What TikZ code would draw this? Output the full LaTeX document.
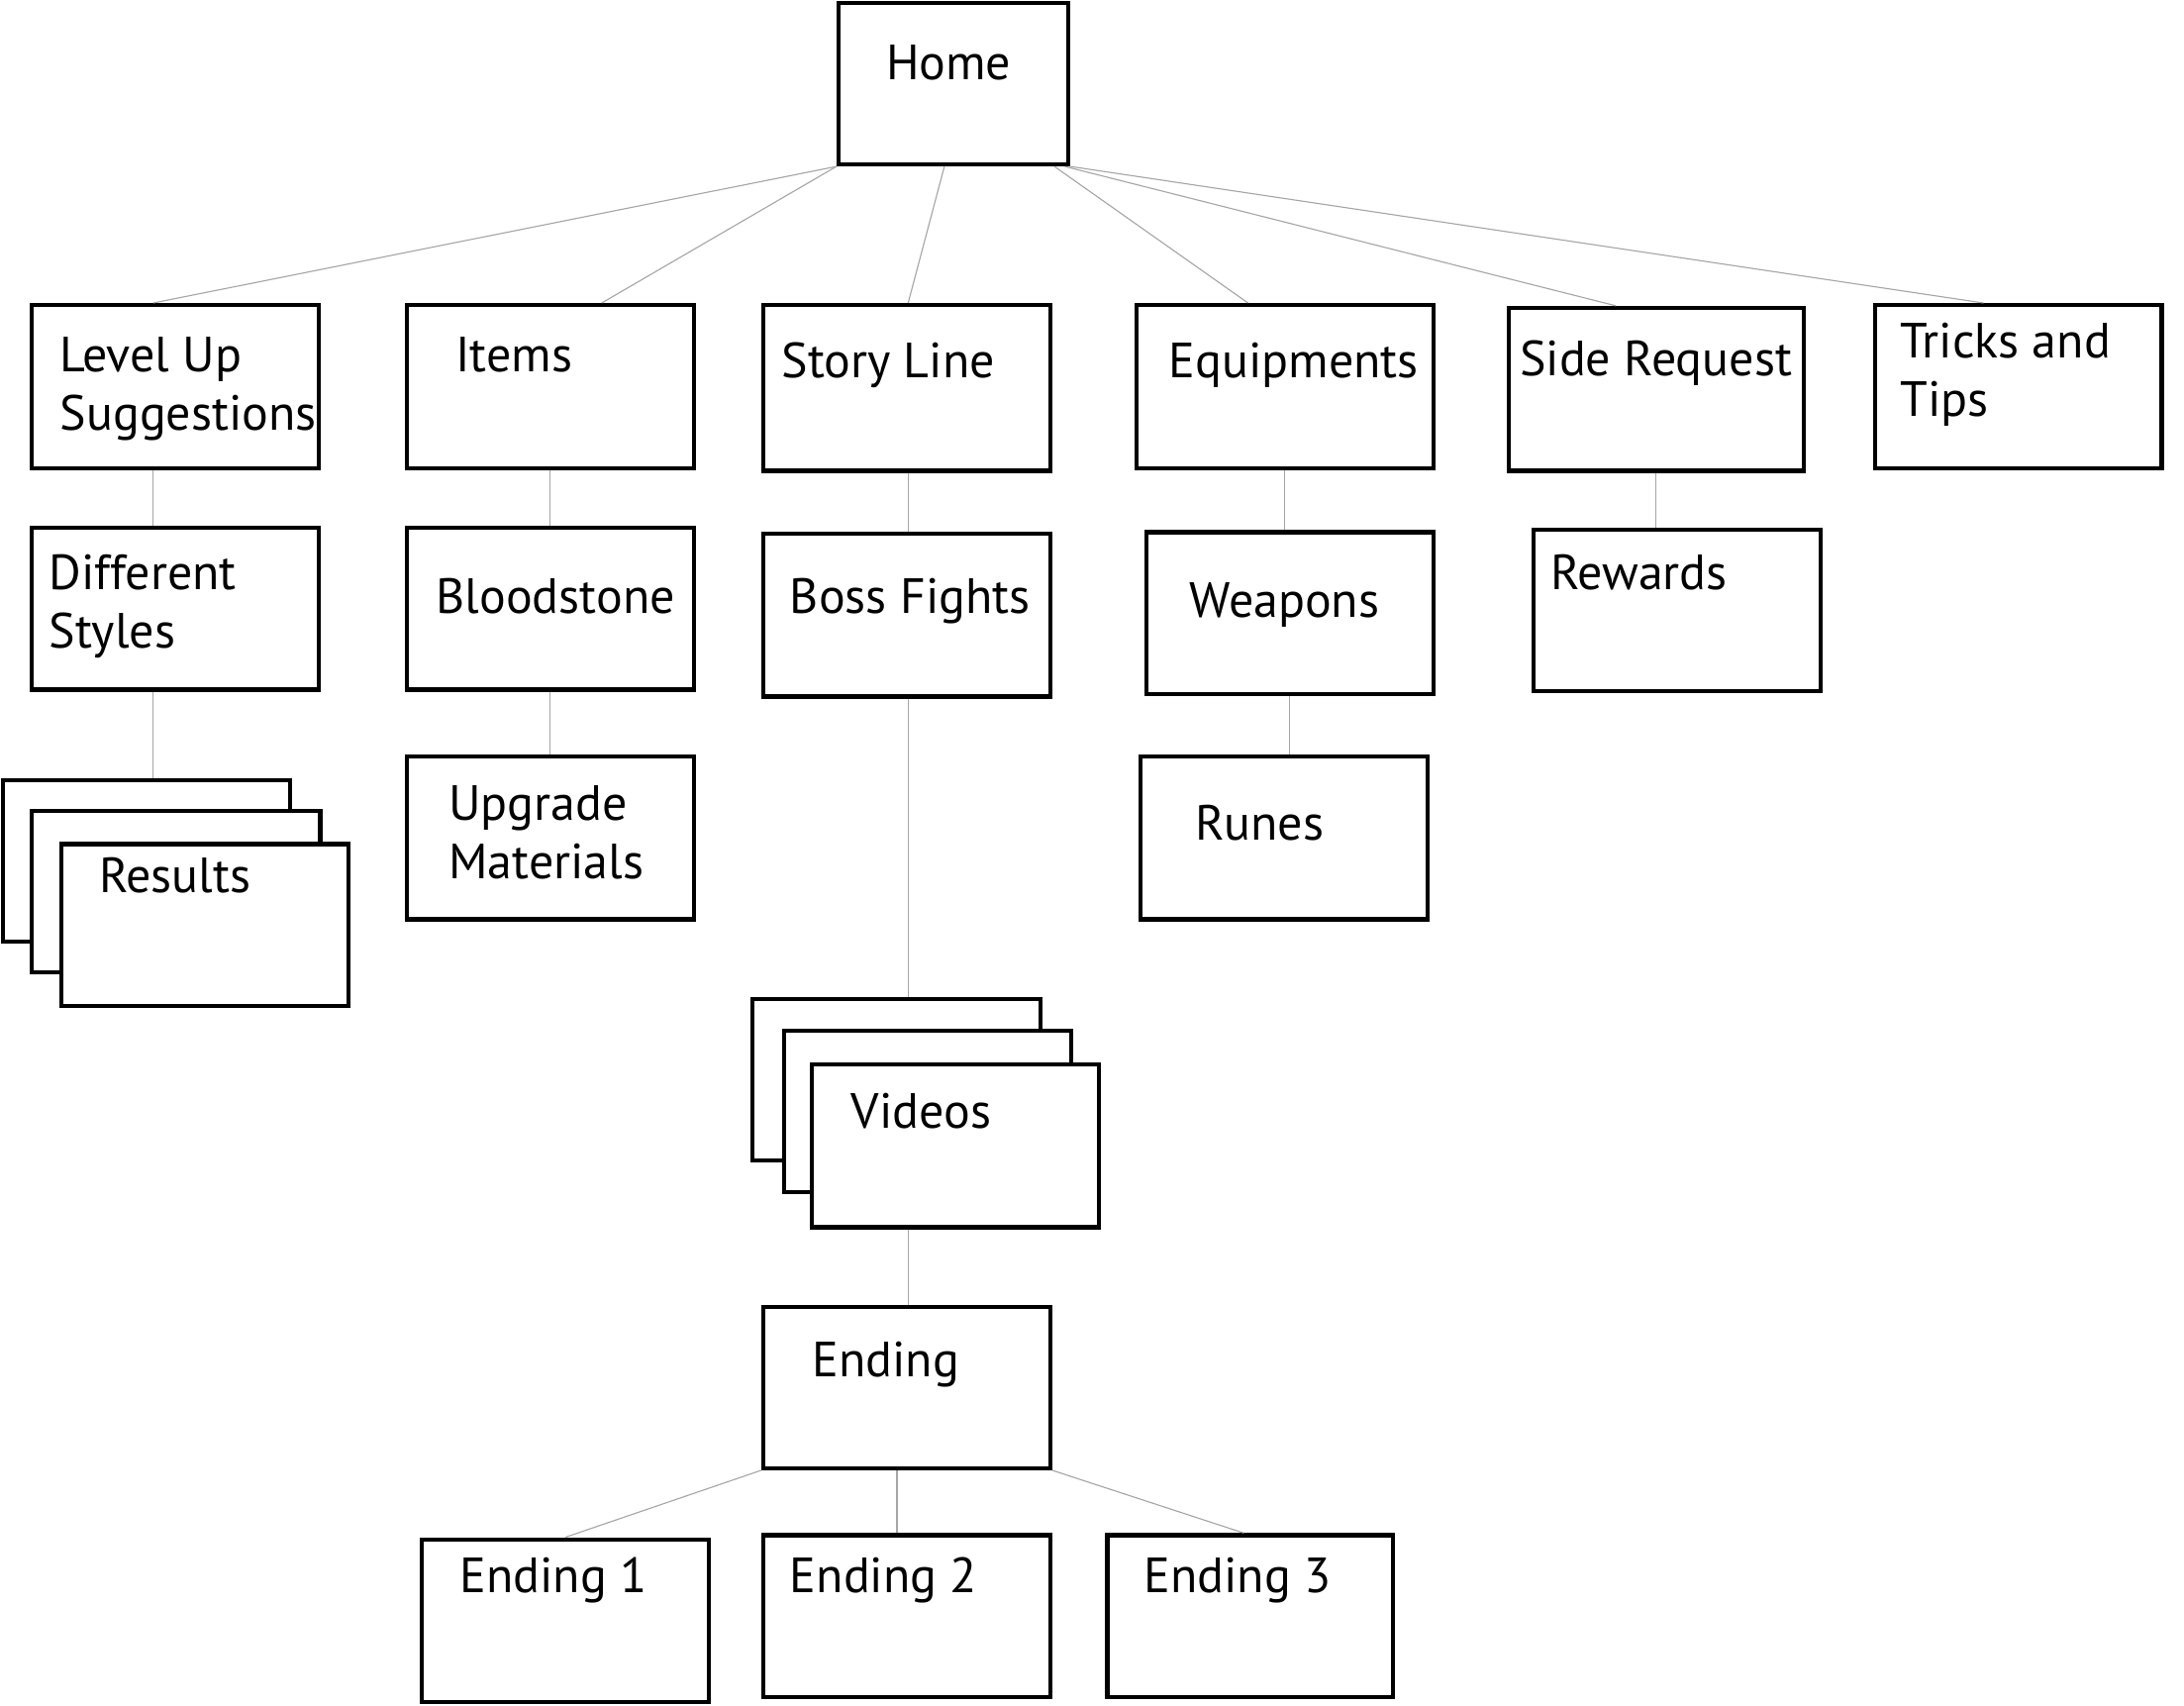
\documentclass[tikz,border=0pt]{standalone}
\usepackage{fontspec}
\setmainfont{PT Sans}
\begin{document}
\begin{tikzpicture}[x=1pt,y=-1pt,
  box/.style={draw=black, line width=3pt, fill=white, rectangle, inner sep=0pt},
  txt/.style={font=\fontsize{35.5}{42}\selectfont, inner sep=0pt, align=left, anchor=base west},
  conn/.style={draw=black!35, line width=0.8pt}]
\useasboundingbox (0,0) rectangle (1568,1224);
% boxes
\node[box, minimum width=165pt, minimum height=116pt] (home) at (684.5,60) {};
\node[box, minimum width=206pt, minimum height=117pt] (lvl) at (126,277.5) {};
\node[box, minimum width=206pt, minimum height=117pt] (items) at (395,277.5) {};
\node[box, minimum width=206pt, minimum height=119pt] (story) at (651,278.5) {};
\node[box, minimum width=213pt, minimum height=117pt] (equip) at (922.5,277.5) {};
\node[box, minimum width=212pt, minimum height=117pt] (side) at (1189,279.5) {};
\node[box, minimum width=206pt, minimum height=117pt] (tricks) at (1449,277.5) {};
\node[box, minimum width=206pt, minimum height=116pt] (diff) at (126,437) {};
\node[box, minimum width=206pt, minimum height=116pt] (blood) at (395,437) {};
\node[box, minimum width=206pt, minimum height=117pt] (boss) at (651,441.5) {};
\node[box, minimum width=206pt, minimum height=116pt] (weap) at (926,440) {};
\node[box, minimum width=206pt, minimum height=116pt] (rew) at (1204,438) {};
\node[box, minimum width=206pt, minimum height=117pt] (upg) at (395,601.5) {};
\node[box, minimum width=206pt, minimum height=117pt] (runes) at (922,601.5) {};
\node[box, minimum width=206pt, minimum height=116pt] (resA) at (105,618) {};
\node[box, minimum width=207pt, minimum height=116pt] (resB) at (126.5,640) {};
\node[box, minimum width=206pt, minimum height=116pt] (resC) at (147,664) {};
\node[box, minimum width=207pt, minimum height=116pt] (vidA) at (643.5,775) {};
\node[box, minimum width=206pt, minimum height=116pt] (vidB) at (666,798) {};
\node[box, minimum width=206pt, minimum height=117pt] (vidC) at (686,822.5) {};
\node[box, minimum width=206pt, minimum height=116pt] (ending) at (651,996) {};
\node[box, minimum width=206pt, minimum height=117pt] (e1) at (406,1163.5) {};
\node[box, minimum width=206pt, minimum height=116pt] (e2) at (651,1160) {};
\node[box, minimum width=205pt, minimum height=116pt] (e3) at (897.5,1160) {};
% texts (multi-line nodes: base = last line)
\node[txt] (homeT) at (636,57) {Home};
\node[txt] (lvlT) at (43,309) {Level Up\\Suggestions};
\node[txt] (itemsT) at (327,267) {Items};
\node[txt] (storyT) at (561,271) {Story Line};
\node[txt] (equipT) at (839,271) {Equipments};
\node[txt] (sideT) at (1091,270) {Side Request};
\node[txt] (tricksT) at (1364,299) {Tricks and\\Tips};
\node[txt] (diffT) at (35,465) {Different\\Styles};
\node[txt] (bloodT) at (313,440) {Bloodstone};
\node[txt] (bossT) at (567,440) {Boss Fights};
\node[txt] (weapT) at (854,443) {Weapons};
\node[txt] (rewT) at (1113,423) {Rewards};
\node[txt] (upgT) at (322,631) {Upgrade\\Materials};
\node[txt] (runesT) at (858,603) {Runes};
\node[txt] (resT) at (71,641) {Results};
\node[txt] (vidT) at (611,810) {Videos};
\node[txt] (endT) at (583,988) {Ending};
\node[txt] (e1T) at (330,1143) {Ending 1};
\node[txt] (e2T) at (567,1143) {Ending 2};
\node[txt] (e3T) at (821,1143) {Ending 3};
% connectors
\draw[conn] (home.south west) -- ([xshift=-16pt]lvl.north);
\draw[conn] (home.south west) -- ([xshift=37pt]items.north);
\draw[conn] ([xshift=-6.5pt]home.south) -- ([xshift=1pt]story.north);
\draw[conn] ([xshift=72.5pt]home.south) -- ([xshift=-26.5pt]equip.north);
\draw[conn] ([xshift=-4pt]home.south east) -- ([xshift=-29pt]side.north);
\draw[conn] (home.south east) -- ([xshift=-25pt]tricks.north);
\draw[conn] ([xshift=-16pt]lvl.south) -- ([xshift=-16pt]diff.north);
\draw[conn] ([xshift=-16pt]diff.south) -- ([xshift=5pt]resA.north);
\draw[conn] (items.south) -- (blood.north);
\draw[conn] (blood.south) -- (upg.north);
\draw[conn] ([xshift=1pt]story.south) -- ([xshift=1pt]boss.north);
\draw[conn] ([xshift=1pt]boss.south) -- ([xshift=8.5pt]vidA.north);
\draw[conn] ([xshift=-34pt]vidC.south) -- ([xshift=1pt]ending.north);
\draw[conn] (equip.south) -- (equip.south |- weap.north);
\draw[conn] (weap.south) -- (weap.south |- runes.north);
\draw[conn] (side.south) -- (side.south |- rew.north);
\draw[conn] (ending.south west) -- (e1.north);
\draw[conn] ([xshift=-7pt]ending.south) -- ([xshift=-7pt]e2.north);
\draw[conn] (ending.south east) -- ([xshift=-4.5pt]e3.north);
\end{tikzpicture}
\end{document}
